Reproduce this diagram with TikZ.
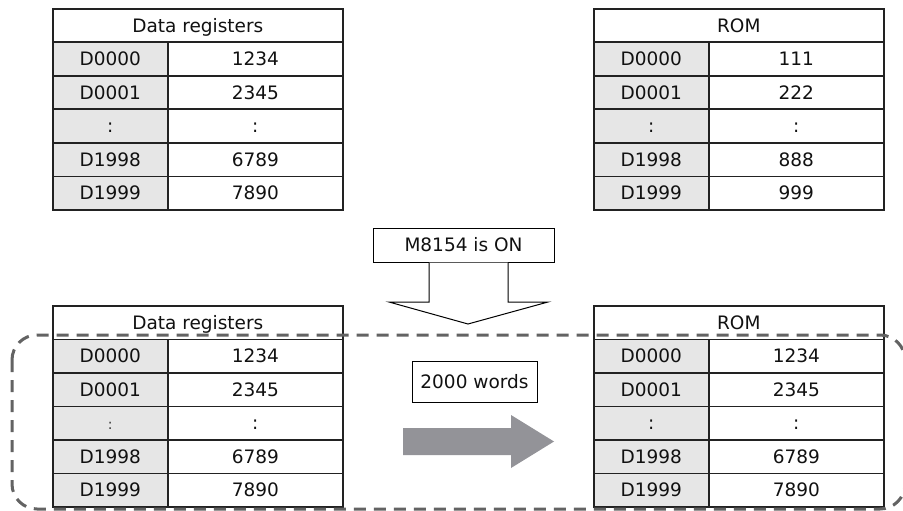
\documentclass[tikz,border=0pt]{standalone}
\usepackage{fontspec}
\setmainfont{DejaVu Sans}
\definecolor{linec}{HTML}{222222}
\definecolor{cellgray}{HTML}{E6E6E6}
\definecolor{dashc}{HTML}{636363}
\definecolor{arrowgray}{HTML}{939398}
\definecolor{txt}{HTML}{111111}
\tikzset{
  cell/.style={draw=linec, line width=1.6pt, inner sep=0pt, anchor=north west,
    minimum height=33.5pt, text height=13.5pt, text depth=0pt,
    font=\fontsize{18.5}{22}\selectfont, text=txt},
  keycell/.style={cell, fill=cellgray, minimum width=115pt},
  valcell/.style={cell, fill=white, minimum width=175pt},
  headcell/.style={cell, fill=white, minimum width=290pt},
  labelbox/.style={draw=black, line width=1pt, fill=white, inner sep=0pt,
    text height=13.5pt, text depth=0pt, font=\fontsize{18.5}{22}\selectfont, text=txt},
  blockarrow/.style={draw=black, line width=1pt, fill=white, line join=miter},
  movearrow/.style={fill=arrowgray},
  groupframe/.style={draw=dashc, line width=3pt, dash pattern=on 12pt off 8pt, rounded corners=25pt}
}
% #1 name, #2 x, #3 y, #4 title, #5-#8 values, #9 left colon
\newcommand\regtable[9]{%
  \node[headcell] (#1h) at (#2,#3) {#4};
  \node[keycell] (#1k1) at (#2,#3+33.5) {D0000};
  \node[valcell] (#1v1) at (#2+115,#3+33.5) {#5};
  \node[keycell] (#1k2) at (#2,#3+67) {D0001};
  \node[valcell] (#1v2) at (#2+115,#3+67) {#6};
  \node[keycell] (#1k3) at (#2,#3+100.5) {#9};
  \node[valcell] (#1v3) at (#2+115,#3+100.5) {:};
  \node[keycell] (#1k4) at (#2,#3+134) {D1998};
  \node[valcell] (#1v4) at (#2+115,#3+134) {#7};
  \node[keycell] (#1k5) at (#2,#3+167.5) {D1999};
  \node[valcell] (#1v5) at (#2+115,#3+167.5) {#8};
}
\begin{document}
\begin{tikzpicture}[x=1pt,y=-1pt]
\useasboundingbox (0,0) rectangle (903,511);
\fill[white] (0,0) rectangle (903,511);

\regtable{tl}{52}{8}{Data registers}{1234}{2345}{6789}{7890}{:}
\regtable{tr}{593}{8}{ROM}{111}{222}{888}{999}{:}
\regtable{bl}{52}{305}{Data registers}{1234}{2345}{6789}{7890}{{\fontsize{14}{16}\selectfont\color{black!80}:}}
\regtable{br}{593}{305}{ROM}{1234}{2345}{6789}{7890}{:}

\node[labelbox, minimum width=181pt, minimum height=34pt] (cond) at (463.5,245) {M8154 is ON};
\coordinate (sl) at (429,0);
\coordinate (sr) at (508,0);
\draw[blockarrow] (cond.south -| sl) -- (429,302) -- (389,302) -- (468,324)
  -- (548,302) -- (508,302) -- (cond.south -| sr);

\node[labelbox, minimum width=125pt, minimum height=41pt] (words) at (474.5,381.5) {2000 words};

\fill[movearrow] (403,428) -- (511,428) -- (511,415) -- (554,441.5) -- (511,468)
  -- (511,455) -- (403,455) -- cycle;

\draw[groupframe] (12,335) rectangle (905,509);
\end{tikzpicture}
\end{document}
